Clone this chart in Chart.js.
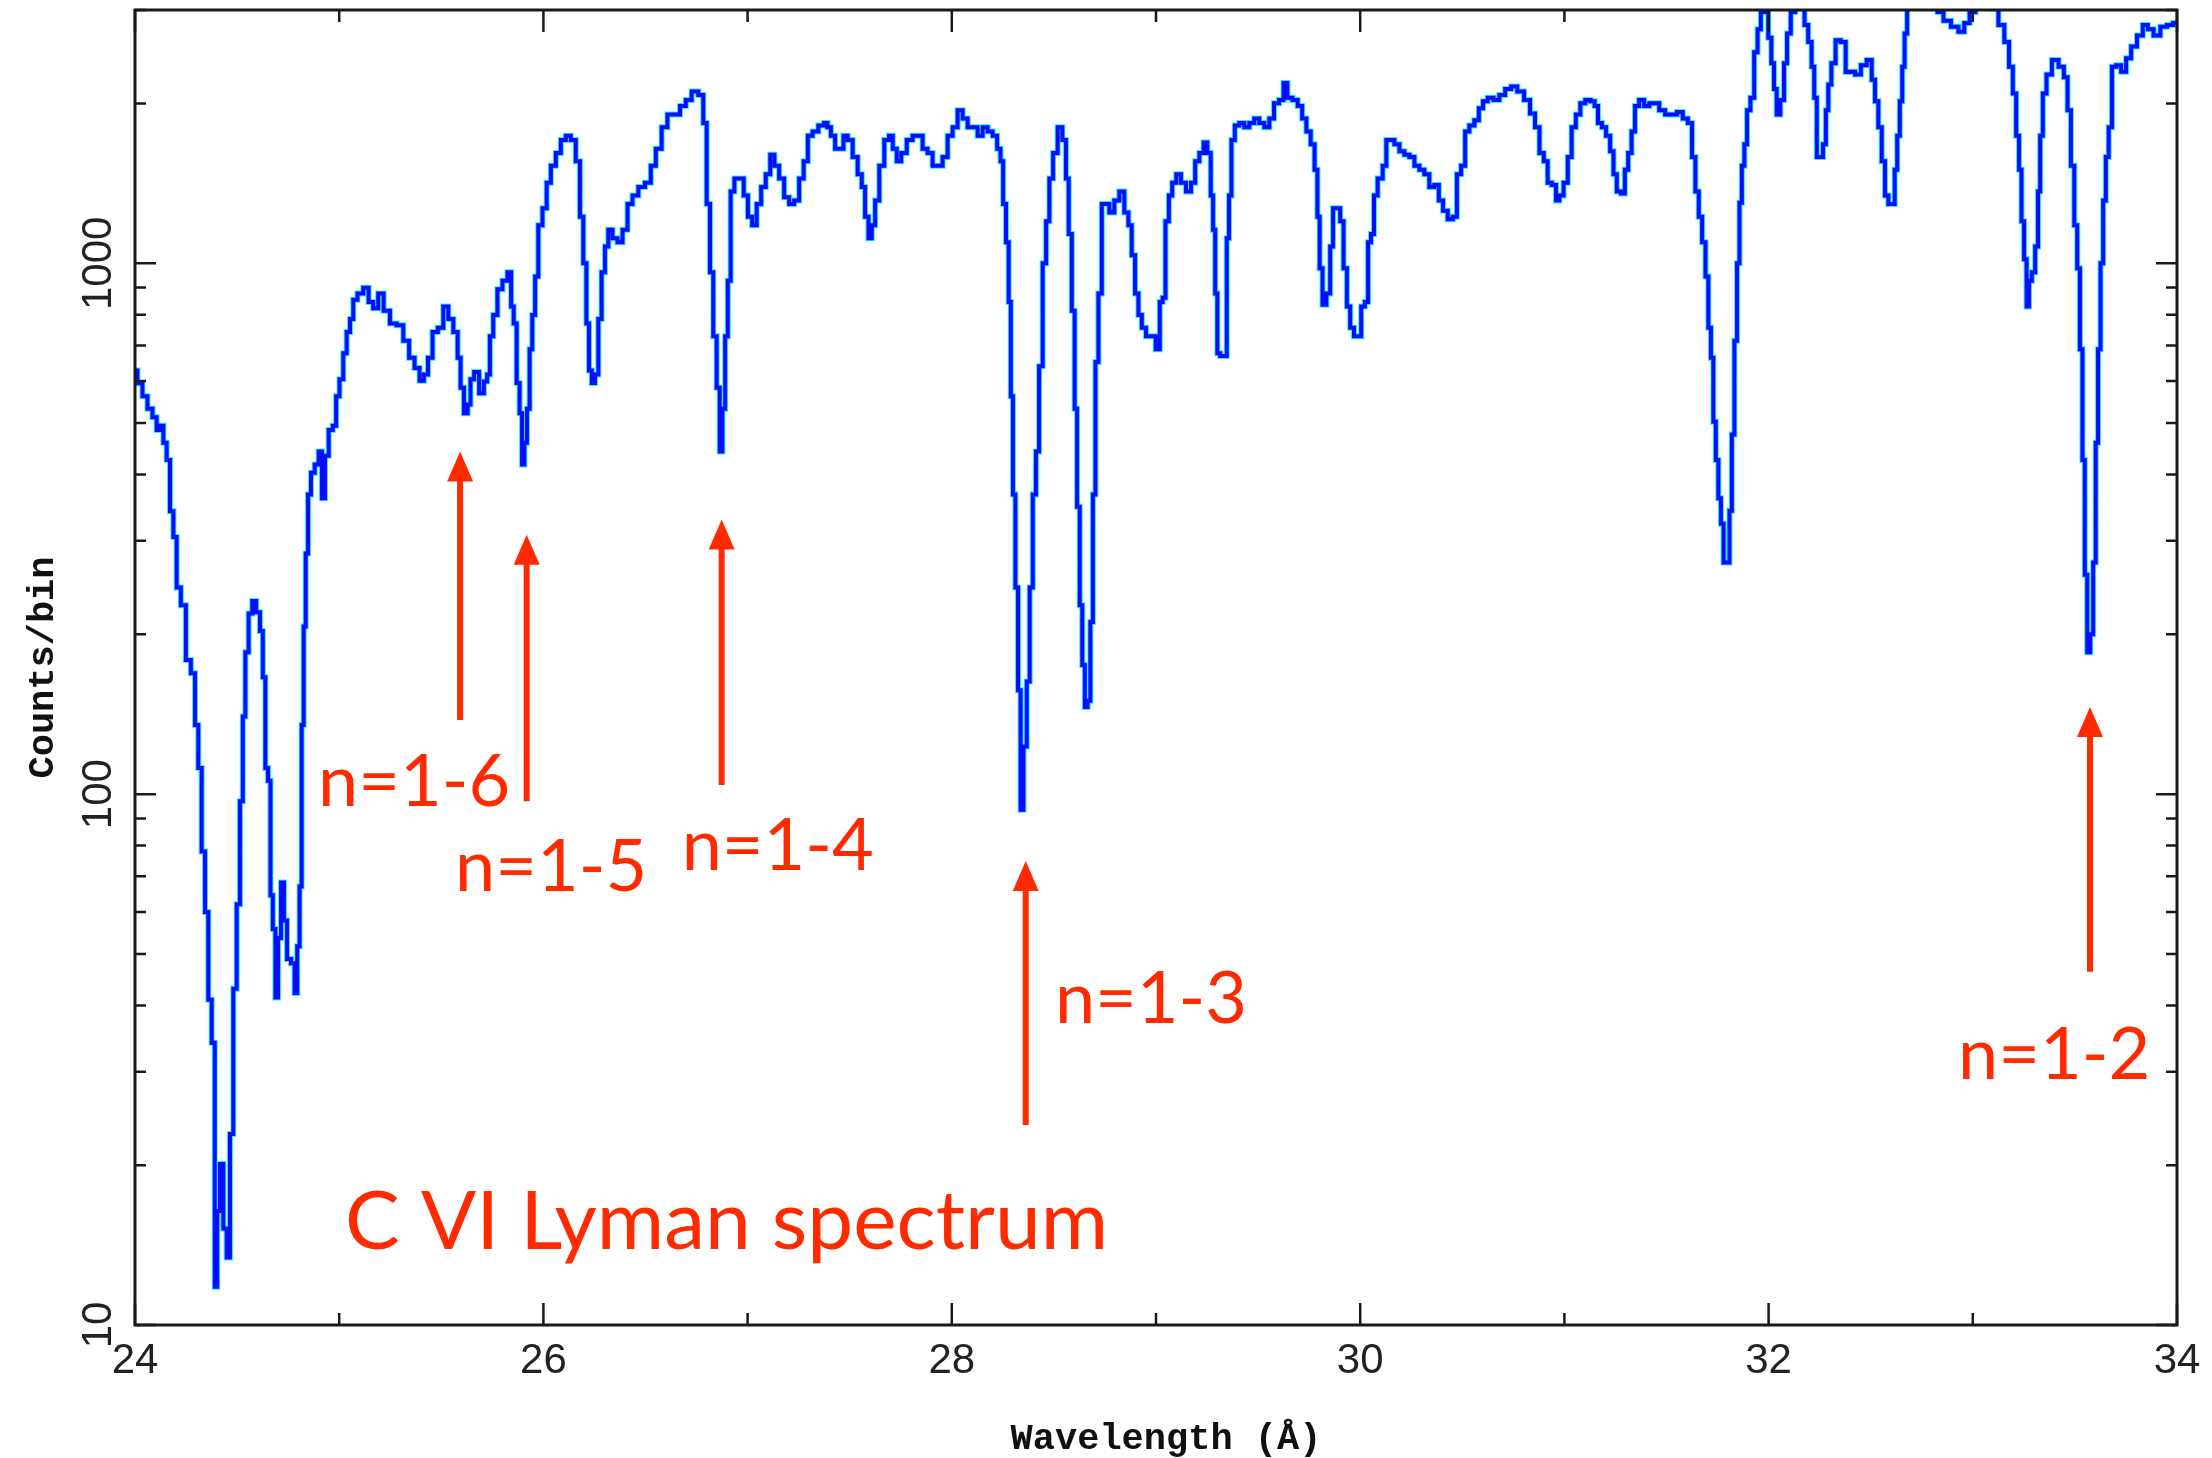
<!DOCTYPE html>
<html>
<head>
<meta charset="utf-8">
<script src="https://cdn.jsdelivr.net/npm/chart.js@4.4.0/dist/chart.umd.min.js"></script>
<style>
  html, body { margin: 0; padding: 0; background: #fff; }
  #wrap { width: 2212px; height: 1458px; }
</style>
</head>
<body>
<div id="wrap"><canvas id="spec" width="2212" height="1458"></canvas></div>
<script>
// wavelength (Angstrom) and counts per bin
var wave = [
  24.000,24.024,24.049,24.073,24.098,24.114,24.131,24.147,24.163,24.180,24.196,24.212,24.237,24.261,24.286,
  24.302,24.318,24.335,24.351,24.367,24.384,24.397,24.408,24.424,24.441,24.457,24.473,24.490,24.506,24.522,
  24.534,24.547,24.566,24.583,24.604,24.620,24.632,24.645,24.658,24.669,24.681,24.694,24.707,24.723,24.736,
  24.753,24.775,24.788,24.801,24.811,24.821,24.831,24.841,24.854,24.870,24.890,24.909,24.922,24.939,24.958,
  24.979,24.991,25.012,25.028,25.045,25.061,25.077,25.102,25.134,25.154,25.179,25.203,25.232,25.265,25.298,
  25.330,25.355,25.383,25.404,25.425,25.445,25.469,25.497,25.523,25.546,25.572,25.588,25.601,25.621,25.637,
  25.649,25.673,25.698,25.719,
  25.730,25.746,25.763,25.787,25.812,25.836,25.848,25.861,25.877,25.890,25.901,25.913,25.926,25.939,25.952,
  25.967,25.983,26.008,26.024,26.049,26.073,26.098,26.122,26.146,26.171,26.187,26.204,26.217,26.230,26.244,
  26.261,26.277,26.293,26.310,26.326,26.351,26.375,26.400,26.424,26.449,26.481,26.514,26.538,26.563,26.595,
  26.620,26.653,26.685,26.710,26.742,26.775,26.791,26.808,26.824,26.840,26.857,26.870,26.883,26.897,26.909,
  26.925,26.946,26.971,26.991,27.012,27.033,27.056,27.077,27.101,27.121,27.142,27.167,27.191,27.216,27.240,
  27.265,27.284,27.306,27.330,27.363,27.387,
  27.396,27.420,27.437,27.461,27.478,27.502,27.527,27.551,27.567,27.584,27.600,27.616,27.633,27.657,27.682,
  27.703,27.719,27.742,27.763,27.796,27.820,27.845,27.869,27.894,27.918,27.943,27.967,27.992,28.016,28.041,
  28.065,28.090,28.114,28.139,28.163,28.188,28.212,28.232,28.245,28.258,28.273,28.284,28.294,28.305,28.318,
  28.331,28.343,28.359,28.375,28.388,28.405,28.419,28.436,28.454,28.470,28.486,28.506,28.531,28.552,28.566,
  28.579,28.596,28.607,28.620,28.633,28.645,28.658,28.672,28.685,28.697,28.710,28.726,28.743,28.759,28.784,
  28.808,28.833,28.857,28.873,28.889,28.906,28.922,28.939,28.963,28.988,29.009,29.028,
  29.037,29.056,29.070,29.089,29.110,29.135,29.159,29.184,29.200,29.225,29.241,29.262,29.274,29.285,29.295,
  29.306,29.323,29.341,29.352,29.363,29.376,29.396,29.420,29.445,29.469,29.494,29.518,29.543,29.567,29.589,
  29.616,29.633,29.654,29.682,29.706,29.726,29.747,29.768,29.785,29.796,29.807,29.824,29.845,29.861,29.873,
  29.894,29.910,29.927,29.943,29.959,29.980,29.997,30.013,30.033,30.044,30.062,30.073,30.098,30.122,30.134,
  30.155,30.180,30.204,30.229,30.253,30.278,30.302,30.326,30.351,30.375,30.395,30.416,30.441,30.465,30.482,
  30.506,30.522,30.547,30.571,30.591,30.612,30.637,30.669,30.694,30.726,
  30.753,30.786,30.819,30.844,30.868,30.888,30.910,30.926,30.951,30.967,30.984,31.008,31.025,31.046,31.066,
  31.090,31.115,31.140,31.156,31.173,31.194,31.214,31.234,31.247,31.266,31.288,31.304,31.321,31.337,31.354,
  31.378,31.403,31.428,31.452,31.477,31.510,31.535,31.567,31.592,31.617,31.633,31.650,31.666,31.683,31.699,
  31.711,31.724,31.735,31.748,31.760,31.773,31.786,31.803,31.814,31.826,31.839,31.852,31.863,31.875,31.888,
  31.901,31.921,31.938,31.954,31.970,31.990,32.007,32.020,32.033,32.046,32.069,32.082,32.099,32.118,32.143,
  32.168,32.184,32.204,32.217,32.230,32.242,32.258,32.275,32.286,32.299,32.316,32.340,32.365,32.390,
  32.407,32.440,32.464,32.497,32.513,32.529,32.546,32.562,32.578,32.595,32.611,32.624,32.636,32.649,32.660,
  32.672,32.685,32.717,32.766,32.815,32.840,32.873,32.913,32.946,32.971,32.998,33.028,33.069,33.109,33.142,
  33.167,33.188,33.204,33.221,33.232,33.245,33.257,33.270,33.281,33.297,33.314,33.325,33.335,33.351,33.371,
  33.404,33.436,33.456,33.472,33.489,33.505,33.518,33.531,33.543,33.554,33.567,33.583,33.596,33.608,33.619,
  33.632,33.645,33.658,33.673,33.690,33.714,33.739,33.763,33.788,33.820,33.845,33.869,33.902,33.935,33.967,
  33.995,34.000
];
var counts = [
  628,594,562,532,513,485,494,459,426,341,305,245,227,179,169,
  135,112,78,60,41,34,11.8,16.4,20.1,15.2,13.4,22.9,43,62,97,
  140,185,219,231,220,203,166,112,106,64.5,55.7,41.4,53.6,68.2,57.8,
  48.9,48,42.2,51.7,67,135,207,284,367,403,418,442,361,434,485,
  494,562,605,677,742,785,854,877,899,845,823,877,814,770,764,
  715,664,635,601,617,664,742,756,829,785,742,664,583,522,542,
  605,624,569,599,
  617,729,799,893,927,962,829,770,595,522,418,459,532,689,799,
  944,1179,1269,1418,1527,1614,1707,1739,1707,1556,1223,1000,770,628,595,
  617,785,962,1075,1157,1115,1095,1157,1293,1342,1392,1418,1527,1644,1804,
  1907,1907,1979,2031,2107,2075,1838,1293,962,729,583,442,532,729,927,
  1366,1444,1444,1342,1223,1179,1293,1392,1472,1602,1527,1444,1332,1293,1313,
  1444,1556,1739,1771,1817,1838,
  1804,1739,1644,1644,1739,1707,1585,1472,1392,1223,1115,1179,1313,1527,1707,
  1739,1644,1556,1614,1707,1739,1739,1644,1614,1527,1527,1585,1739,1804,1942,
  1873,1804,1804,1739,1804,1771,1739,1644,1556,1293,1095,845,562,367,245,
  157,93.5,123,163,245,367,442,640,1000,1200,1444,1614,1804,1707,1444,
  1136,814,532,348,227,175,146,150,211,367,652,877,1293,1293,1246,
  1313,1366,1246,1179,1035,877,799,756,729,729,689,845,
  861,1200,1342,1418,1472,1418,1366,1418,1556,1614,1688,1614,1342,1157,877,
  677,669,669,1115,1342,1707,1817,1838,1804,1838,1873,1838,1804,1873,2001,
  2031,2186,2050,2031,1979,1873,1771,1675,1500,1223,979,835,877,1075,1269,
  1269,1200,979,829,756,729,729,829,845,1095,1136,1342,1444,1527,1707,
  1707,1675,1626,1602,1585,1527,1500,1472,1392,1405,1313,1256,1210,1223,1472,
  1527,1771,1817,1860,1960,2019,2050,2031,2075,2129,
  2154,2107,2031,1914,1804,1614,1556,1418,1405,1313,1342,1418,1585,1804,1907,
  2001,2031,2019,1979,1838,1804,1739,1626,1472,1366,1353,1500,1614,1771,1979,
  2031,1979,2001,2001,1942,1907,1907,1928,1873,1838,1585,1366,1223,1095,944,
  756,664,503,426,361,323,273,273,342,476,715,1000,1300,1527,1675,
  1942,2050,2498,2761,2973,2990,2660,2381,2129,1907,2031,2381,2710,2973,3050,
  3020,2812,2611,2345,2050,1585,1585,1675,1942,2171,2381,2631,2611,2292,
  2294,2268,2362,2415,2217,2019,1804,1556,1342,1293,1293,1500,1739,2019,2345,
  2710,3142,3300,3300,3081,2973,2864,2790,2730,2834,2973,3050,3081,3020,2812,
  2611,2345,2088,1739,1500,1200,1018,829,927,962,1075,1366,1739,2088,2268,
  2415,2345,2241,1942,1527,1179,979,689,426,259,185,200,273,459,689,
  1000,1313,1585,1804,2345,2362,2294,2433,2561,2687,2812,2761,2687,2790,2812,
  2834,2840
];

var xMajor = [24, 26, 28, 30, 32, 34];
var xMinor = [25, 27, 29, 31, 33];
var yMajor = [10, 100, 1000];
var yMinor = [20, 30, 40, 50, 60, 70, 80, 90, 200, 300, 400, 500, 600, 700, 800, 900, 2000, 3000];

// C VI Lyman line markers: arrow position and label position, in data units
var lineNames = ["n=1-6", "n=1-5", "n=1-4", "n=1-3", "n=1-2"];
var lineWave = [25.592, 25.918, 26.873, 28.362, 33.574];
var arrowTip = [442, 308, 329, 74.8, 146];
var arrowBase = [138, 97, 104, 23.8, 46.3];
var labelWave = [24.896, 25.567, 26.677, 28.505, 32.928];
var labelCounts = [95, 65.8, 72.1, 37, 29.1];
var titleText = "C VI Lyman spectrum";
var titleWave = 25.028, titleCounts = 13.9;

var points = wave.map(function (w, i) { return { x: w, y: counts[i] }; });
var red = "#ff2a00";

var frame = {
  id: "frame",
  afterDraw: function (chart) {
    var ctx = chart.ctx, a = chart.chartArea;
    var xs = chart.scales.x, ys = chart.scales.y;
    ctx.save();
    ctx.strokeStyle = "#1a1a1a";
    ctx.lineWidth = 3;
    ctx.strokeRect(a.left, a.top, a.right - a.left, a.bottom - a.top);

    ctx.lineWidth = 2.5;
    function xtick(v, len) {
      var px = xs.getPixelForValue(v);
      ctx.beginPath();
      ctx.moveTo(px, a.bottom); ctx.lineTo(px, a.bottom - len);
      ctx.moveTo(px, a.top); ctx.lineTo(px, a.top + len);
      ctx.stroke();
    }
    function ytick(v, len) {
      var py = ys.getPixelForValue(v);
      ctx.beginPath();
      ctx.moveTo(a.left, py); ctx.lineTo(a.left + len, py);
      ctx.moveTo(a.right, py); ctx.lineTo(a.right - len, py);
      ctx.stroke();
    }
    xMajor.forEach(function (v) { xtick(v, 22); });
    xMinor.forEach(function (v) { xtick(v, 12); });
    yMajor.forEach(function (v) { ytick(v, 21); });
    yMinor.forEach(function (v) { ytick(v, 11); });

    ctx.fillStyle = "#222";
    ctx.font = "42px 'Liberation Sans'";
    ctx.textAlign = "center";
    ctx.textBaseline = "alphabetic";
    xMajor.forEach(function (v) {
      ctx.fillText(String(v), xs.getPixelForValue(v), a.bottom + 48);
    });
    yMajor.forEach(function (v) {
      ctx.save();
      ctx.translate(a.left - 24, ys.getPixelForValue(v));
      ctx.rotate(-Math.PI / 2);
      ctx.fillText(String(v), 0, 0);
      ctx.restore();
    });

    ctx.fillStyle = "#111";
    ctx.font = "bold 37px 'Liberation Mono'";
    ctx.fillText("Wavelength (\u00c5)", (a.left + a.right) / 2 + 10, a.bottom + 124);
    ctx.save();
    ctx.translate(a.left - 82, (a.top + a.bottom) / 2);
    ctx.rotate(-Math.PI / 2);
    ctx.fillText("Counts/bin", 0, 0);
    ctx.restore();

    // line markers
    ctx.fillStyle = red;
    ctx.strokeStyle = red;
    lineNames.forEach(function (name, i) {
      var px = xs.getPixelForValue(lineWave[i]);
      var tip = ys.getPixelForValue(arrowTip[i]);
      var base = ys.getPixelForValue(arrowBase[i]);
      ctx.lineWidth = 6;
      ctx.beginPath();
      ctx.moveTo(px, base); ctx.lineTo(px, tip + 20);
      ctx.stroke();
      ctx.beginPath();
      ctx.moveTo(px, tip);
      ctx.lineTo(px - 13, tip + 30);
      ctx.lineTo(px + 13, tip + 30);
      ctx.closePath();
      ctx.fill();

      ctx.font = "72px Lato";
      ctx.textAlign = "left";
      ctx.fillText(name, xs.getPixelForValue(labelWave[i]), ys.getPixelForValue(labelCounts[i]));
    });
    ctx.font = "82px Lato";
    ctx.fillText(titleText, xs.getPixelForValue(titleWave), ys.getPixelForValue(titleCounts));
    ctx.restore();
  }
};

new Chart(document.getElementById("spec"), {
  type: "line",
  data: {
    datasets: [
      {
        label: "Counts",
        data: points,
        borderColor: "#0a0aff",
        borderWidth: 4,
        pointRadius: 0,
        stepped: "middle",
        fill: false,
        clip: 0
      },
      {
        label: "Error",
        data: points,
        borderColor: "#2ef0ff",
        borderWidth: 6,
        pointRadius: 0,
        stepped: "middle",
        fill: false,
        clip: 0
      }
    ]
  },
  options: {
    responsive: false,
    animation: false,
    events: [],
    layout: { padding: { left: 135, right: 35, top: 10, bottom: 133 } },
    plugins: { legend: { display: false }, tooltip: { enabled: false } },
    scales: {
      x: { type: "linear", min: 24, max: 34, display: false },
      y: { type: "logarithmic", min: 10, max: 3000, display: false }
    }
  },
  plugins: [frame]
});
</script>
</body>
</html>
